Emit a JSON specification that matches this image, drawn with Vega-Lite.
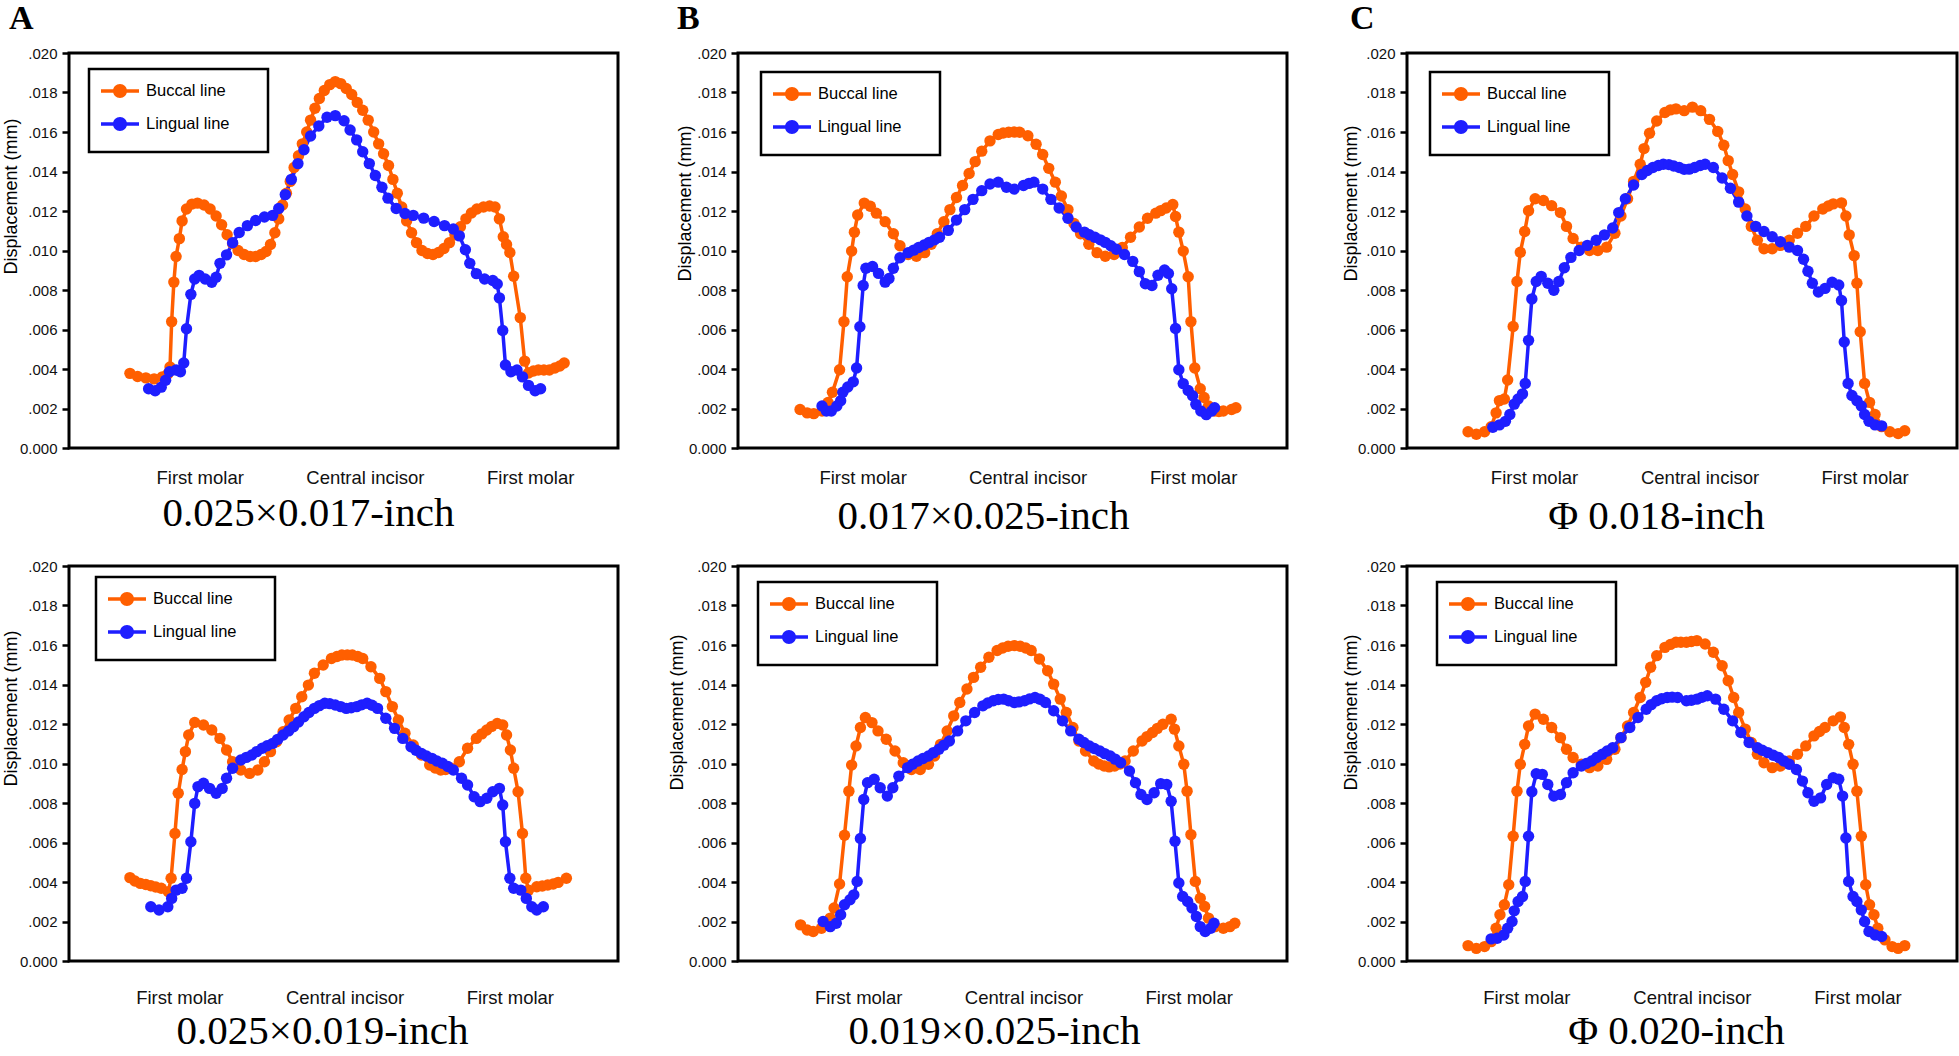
{
"$schema":"https://vega.github.io/schema/vega-lite/v6.json",
"background":"white",
"padding":{"left":0,"top":0,"right":0,"bottom":0},
"autosize":{"type":"pad"},
"columns":3,
"bounds":"flush",
"spacing":{"row":118,"column":120},
"resolve":{"scale":{"color":"independent"},"legend":{"color":"independent"}},
"data":{"name":"d"},
"config":{
"view":{"stroke":"black","strokeWidth":3},
"font":"Liberation Sans",
"axis":{"grid":false,"domain":false,"labelFont":"Liberation Sans","labelColor":"#111","titleColor":"black","titleFontWeight":"normal","labelFlush":false,"labelOverlap":false},
"axisX":{"ticks":false,"tickSize":0,"labelFontSize":18.5,"titleFont":"Liberation Serif","titleFontSize":41,"titleBaseline":"middle"},
"axisY":{"ticks":true,"tickSize":7,"tickWidth":2.5,"tickColor":"black","labelFontSize":15,"labelPadding":5,"titleFont":"Liberation Sans","titleFontSize":18,"titleBaseline":"middle","titleAngle":-90},
"legend":{"orient":"none","padding":12,"strokeColor":"black","strokeWidth":2.5,"fillColor":"white","labelFont":"Liberation Sans","labelFontSize":16.5,"labelColor":"black","labelOffset":16,"symbolOffset":9,"symbolType":"M-1.9,-0.17L1.9,-0.17L1.9,0.17L-1.9,0.17Z M0.7,0A0.7,0.7,0,1,1,-0.7,0A0.7,0.7,0,1,1,0.7,0Z","symbolSize":400,"symbolStrokeWidth":0,"rowPadding":14,"titleOrient":"right","titlePadding":27,"titleFontSize":12,"titleLineHeight":16,"titleBaseline":"top","titleAnchor":"start"},
"title":{"font":"Liberation Serif","fontSize":34,"fontWeight":"bold","anchor":"start","frame":"group","color":"black","offset":10}
},
"datasets":{"d":[
{"p":"A1","s":"B","x":11.1,"y":3.78},{"p":"A1","s":"B","x":12.5,"y":3.62},{"p":"A1","s":"B","x":14.0,"y":3.55},{"p":"A1","s":"B","x":15.5,"y":3.5},{"p":"A1","s":"B","x":17.0,"y":3.6},{"p":"A1","s":"B","x":18.0,"y":3.75},{"p":"A1","s":"B","x":18.4,"y":4.1},{"p":"A1","s":"B","x":18.7,"y":6.4},{"p":"A1","s":"B","x":19.1,"y":8.4},{"p":"A1","s":"B","x":19.5,"y":9.7},{"p":"A1","s":"B","x":20.1,"y":10.6},{"p":"A1","s":"B","x":20.6,"y":11.5},{"p":"A1","s":"B","x":21.4,"y":12.1},{"p":"A1","s":"B","x":22.4,"y":12.35},{"p":"A1","s":"B","x":23.4,"y":12.4},{"p":"A1","s":"B","x":24.6,"y":12.3},{"p":"A1","s":"B","x":25.7,"y":12.1},{"p":"A1","s":"B","x":26.8,"y":11.75},{"p":"A1","s":"B","x":27.8,"y":11.3},{"p":"A1","s":"B","x":28.8,"y":10.8},{"p":"A1","s":"B","x":29.8,"y":10.35},{"p":"A1","s":"B","x":30.8,"y":10.0},{"p":"A1","s":"B","x":31.9,"y":9.8},{"p":"A1","s":"B","x":33.0,"y":9.7},{"p":"A1","s":"B","x":34.0,"y":9.7},{"p":"A1","s":"B","x":35.0,"y":9.8},{"p":"A1","s":"B","x":35.9,"y":9.95},{"p":"A1","s":"B","x":36.7,"y":10.3},{"p":"A1","s":"B","x":37.5,"y":10.9},{"p":"A1","s":"B","x":38.2,"y":11.6},{"p":"A1","s":"B","x":38.9,"y":12.3},{"p":"A1","s":"B","x":39.6,"y":12.9},{"p":"A1","s":"B","x":40.3,"y":13.5},{"p":"A1","s":"B","x":41.0,"y":14.2},{"p":"A1","s":"B","x":41.8,"y":14.8},{"p":"A1","s":"B","x":42.5,"y":15.4},{"p":"A1","s":"B","x":43.3,"y":16.0},{"p":"A1","s":"B","x":44.0,"y":16.6},{"p":"A1","s":"B","x":44.8,"y":17.2},{"p":"A1","s":"B","x":45.6,"y":17.7},{"p":"A1","s":"B","x":46.5,"y":18.1},{"p":"A1","s":"B","x":47.5,"y":18.4},{"p":"A1","s":"B","x":48.5,"y":18.55},{"p":"A1","s":"B","x":49.5,"y":18.45},{"p":"A1","s":"B","x":50.5,"y":18.2},{"p":"A1","s":"B","x":51.5,"y":17.9},{"p":"A1","s":"B","x":52.5,"y":17.5},{"p":"A1","s":"B","x":53.5,"y":17.1},{"p":"A1","s":"B","x":54.5,"y":16.6},{"p":"A1","s":"B","x":55.5,"y":16.0},{"p":"A1","s":"B","x":56.4,"y":15.4},{"p":"A1","s":"B","x":57.3,"y":14.9},{"p":"A1","s":"B","x":58.2,"y":14.3},{"p":"A1","s":"B","x":59.0,"y":13.6},{"p":"A1","s":"B","x":59.8,"y":12.9},{"p":"A1","s":"B","x":60.6,"y":12.2},{"p":"A1","s":"B","x":61.5,"y":11.5},{"p":"A1","s":"B","x":62.4,"y":10.9},{"p":"A1","s":"B","x":63.3,"y":10.4},{"p":"A1","s":"B","x":64.3,"y":10.0},{"p":"A1","s":"B","x":65.3,"y":9.85},{"p":"A1","s":"B","x":66.3,"y":9.8},{"p":"A1","s":"B","x":67.3,"y":9.9},{"p":"A1","s":"B","x":68.3,"y":10.1},{"p":"A1","s":"B","x":69.3,"y":10.4},{"p":"A1","s":"B","x":70.3,"y":10.8},{"p":"A1","s":"B","x":71.3,"y":11.2},{"p":"A1","s":"B","x":72.3,"y":11.6},{"p":"A1","s":"B","x":73.3,"y":11.9},{"p":"A1","s":"B","x":74.3,"y":12.1},{"p":"A1","s":"B","x":75.5,"y":12.2},{"p":"A1","s":"B","x":76.6,"y":12.25},{"p":"A1","s":"B","x":77.6,"y":12.2},{"p":"A1","s":"B","x":78.4,"y":11.6},{"p":"A1","s":"B","x":79.1,"y":10.7},{"p":"A1","s":"B","x":79.7,"y":10.3},{"p":"A1","s":"B","x":80.3,"y":9.9},{"p":"A1","s":"B","x":81.0,"y":8.7},{"p":"A1","s":"B","x":82.2,"y":6.6},{"p":"A1","s":"B","x":83.0,"y":4.4},{"p":"A1","s":"B","x":83.7,"y":3.8},{"p":"A1","s":"B","x":84.6,"y":3.9},{"p":"A1","s":"B","x":85.5,"y":3.95},{"p":"A1","s":"B","x":86.5,"y":3.95},{"p":"A1","s":"B","x":87.5,"y":3.95},{"p":"A1","s":"B","x":88.5,"y":4.05},{"p":"A1","s":"B","x":89.4,"y":4.15},{"p":"A1","s":"B","x":90.2,"y":4.3},
{"p":"A1","s":"L","x":14.5,"y":3.0},{"p":"A1","s":"L","x":15.7,"y":2.9},{"p":"A1","s":"L","x":16.8,"y":3.08},{"p":"A1","s":"L","x":17.6,"y":3.43},{"p":"A1","s":"L","x":18.3,"y":3.86},{"p":"A1","s":"L","x":19.5,"y":3.95},{"p":"A1","s":"L","x":20.3,"y":3.86},{"p":"A1","s":"L","x":20.9,"y":4.3},{"p":"A1","s":"L","x":21.4,"y":6.04},{"p":"A1","s":"L","x":22.2,"y":7.78},{"p":"A1","s":"L","x":22.9,"y":8.56},{"p":"A1","s":"L","x":23.7,"y":8.74},{"p":"A1","s":"L","x":24.8,"y":8.56},{"p":"A1","s":"L","x":26.0,"y":8.39},{"p":"A1","s":"L","x":26.8,"y":8.65},{"p":"A1","s":"L","x":27.5,"y":9.35},{"p":"A1","s":"L","x":28.7,"y":9.78},{"p":"A1","s":"L","x":29.8,"y":10.39},{"p":"A1","s":"L","x":31.0,"y":10.91},{"p":"A1","s":"L","x":32.5,"y":11.26},{"p":"A1","s":"L","x":34.0,"y":11.52},{"p":"A1","s":"L","x":35.6,"y":11.7},{"p":"A1","s":"L","x":37.1,"y":11.78},{"p":"A1","s":"L","x":38.2,"y":12.13},{"p":"A1","s":"L","x":39.4,"y":12.83},{"p":"A1","s":"L","x":40.5,"y":13.6},{"p":"A1","s":"L","x":41.7,"y":14.4},{"p":"A1","s":"L","x":42.8,"y":15.1},{"p":"A1","s":"L","x":44.0,"y":15.8},{"p":"A1","s":"L","x":45.5,"y":16.3},{"p":"A1","s":"L","x":47.0,"y":16.75},{"p":"A1","s":"L","x":48.5,"y":16.83},{"p":"A1","s":"L","x":50.1,"y":16.57},{"p":"A1","s":"L","x":51.2,"y":16.1},{"p":"A1","s":"L","x":52.4,"y":15.6},{"p":"A1","s":"L","x":53.5,"y":15.0},{"p":"A1","s":"L","x":54.7,"y":14.4},{"p":"A1","s":"L","x":55.8,"y":13.8},{"p":"A1","s":"L","x":57.0,"y":13.2},{"p":"A1","s":"L","x":58.1,"y":12.65},{"p":"A1","s":"L","x":59.6,"y":12.13},{"p":"A1","s":"L","x":61.2,"y":11.87},{"p":"A1","s":"L","x":62.7,"y":11.78},{"p":"A1","s":"L","x":64.6,"y":11.64},{"p":"A1","s":"L","x":66.5,"y":11.47},{"p":"A1","s":"L","x":68.4,"y":11.26},{"p":"A1","s":"L","x":70.0,"y":11.09},{"p":"A1","s":"L","x":71.1,"y":10.74},{"p":"A1","s":"L","x":72.2,"y":10.04},{"p":"A1","s":"L","x":73.0,"y":9.35},{"p":"A1","s":"L","x":74.2,"y":8.83},{"p":"A1","s":"L","x":75.7,"y":8.56},{"p":"A1","s":"L","x":77.2,"y":8.48},{"p":"A1","s":"L","x":78.0,"y":8.3},{"p":"A1","s":"L","x":78.4,"y":7.6},{"p":"A1","s":"L","x":79.0,"y":5.95},{"p":"A1","s":"L","x":79.5,"y":4.2},{"p":"A1","s":"L","x":80.5,"y":3.86},{"p":"A1","s":"L","x":81.6,"y":3.95},{"p":"A1","s":"L","x":82.6,"y":3.6},{"p":"A1","s":"L","x":83.7,"y":3.17},{"p":"A1","s":"L","x":84.9,"y":2.9},{"p":"A1","s":"L","x":85.9,"y":3.0},
{"p":"B1","s":"B","x":11.3,"y":1.95},{"p":"B1","s":"B","x":12.6,"y":1.78},{"p":"B1","s":"B","x":13.8,"y":1.74},{"p":"B1","s":"B","x":15.3,"y":1.87},{"p":"B1","s":"B","x":16.4,"y":2.3},{"p":"B1","s":"B","x":17.2,"y":2.82},{"p":"B1","s":"B","x":18.5,"y":3.96},{"p":"B1","s":"B","x":19.3,"y":6.4},{"p":"B1","s":"B","x":19.9,"y":8.67},{"p":"B1","s":"B","x":20.7,"y":9.97},{"p":"B1","s":"B","x":21.2,"y":10.93},{"p":"B1","s":"B","x":21.8,"y":11.8},{"p":"B1","s":"B","x":23.0,"y":12.4},{"p":"B1","s":"B","x":24.1,"y":12.24},{"p":"B1","s":"B","x":25.2,"y":11.89},{"p":"B1","s":"B","x":26.8,"y":11.46},{"p":"B1","s":"B","x":28.3,"y":10.85},{"p":"B1","s":"B","x":29.5,"y":10.24},{"p":"B1","s":"B","x":31.0,"y":9.8},{"p":"B1","s":"B","x":32.5,"y":9.71},{"p":"B1","s":"B","x":34.0,"y":9.89},{"p":"B1","s":"B","x":35.2,"y":10.32},{"p":"B1","s":"B","x":36.3,"y":10.85},{"p":"B1","s":"B","x":37.5,"y":11.46},{"p":"B1","s":"B","x":38.6,"y":12.07},{"p":"B1","s":"B","x":39.8,"y":12.68},{"p":"B1","s":"B","x":40.9,"y":13.29},{"p":"B1","s":"B","x":42.1,"y":13.9},{"p":"B1","s":"B","x":43.2,"y":14.5},{"p":"B1","s":"B","x":44.4,"y":15.03},{"p":"B1","s":"B","x":45.9,"y":15.55},{"p":"B1","s":"B","x":47.4,"y":15.87},{"p":"B1","s":"B","x":48.3,"y":15.95},{"p":"B1","s":"B","x":49.3,"y":15.99},{"p":"B1","s":"B","x":50.3,"y":16.0},{"p":"B1","s":"B","x":51.3,"y":15.99},{"p":"B1","s":"B","x":52.8,"y":15.81},{"p":"B1","s":"B","x":54.3,"y":15.38},{"p":"B1","s":"B","x":55.5,"y":14.86},{"p":"B1","s":"B","x":56.6,"y":14.16},{"p":"B1","s":"B","x":57.8,"y":13.46},{"p":"B1","s":"B","x":58.9,"y":12.76},{"p":"B1","s":"B","x":60.1,"y":12.07},{"p":"B1","s":"B","x":61.2,"y":11.37},{"p":"B1","s":"B","x":62.4,"y":10.85},{"p":"B1","s":"B","x":63.9,"y":10.32},{"p":"B1","s":"B","x":65.4,"y":9.89},{"p":"B1","s":"B","x":66.9,"y":9.71},{"p":"B1","s":"B","x":68.5,"y":9.8},{"p":"B1","s":"B","x":70.0,"y":10.15},{"p":"B1","s":"B","x":71.5,"y":10.67},{"p":"B1","s":"B","x":73.1,"y":11.19},{"p":"B1","s":"B","x":74.6,"y":11.63},{"p":"B1","s":"B","x":76.1,"y":11.89},{"p":"B1","s":"B","x":77.0,"y":12.02},{"p":"B1","s":"B","x":78.0,"y":12.15},{"p":"B1","s":"B","x":79.2,"y":12.33},{"p":"B1","s":"B","x":79.7,"y":11.72},{"p":"B1","s":"B","x":80.3,"y":10.93},{"p":"B1","s":"B","x":81.1,"y":9.97},{"p":"B1","s":"B","x":82.0,"y":8.67},{"p":"B1","s":"B","x":82.5,"y":6.4},{"p":"B1","s":"B","x":83.2,"y":4.05},{"p":"B1","s":"B","x":84.2,"y":3.0},{"p":"B1","s":"B","x":84.9,"y":2.56},{"p":"B1","s":"B","x":85.7,"y":2.13},{"p":"B1","s":"B","x":86.8,"y":1.87},{"p":"B1","s":"B","x":87.6,"y":1.85},{"p":"B1","s":"B","x":88.4,"y":1.87},{"p":"B1","s":"B","x":89.9,"y":1.95},{"p":"B1","s":"B","x":90.7,"y":2.04},
{"p":"B1","s":"L","x":15.3,"y":2.13},{"p":"B1","s":"L","x":16.1,"y":1.87},{"p":"B1","s":"L","x":17.0,"y":1.87},{"p":"B1","s":"L","x":18.0,"y":2.13},{"p":"B1","s":"L","x":18.7,"y":2.39},{"p":"B1","s":"L","x":19.1,"y":2.82},{"p":"B1","s":"L","x":20.0,"y":3.09},{"p":"B1","s":"L","x":21.0,"y":3.35},{"p":"B1","s":"L","x":21.6,"y":4.05},{"p":"B1","s":"L","x":22.2,"y":6.14},{"p":"B1","s":"L","x":22.8,"y":8.23},{"p":"B1","s":"L","x":23.3,"y":9.1},{"p":"B1","s":"L","x":24.5,"y":9.19},{"p":"B1","s":"L","x":25.6,"y":8.84},{"p":"B1","s":"L","x":26.8,"y":8.4},{"p":"B1","s":"L","x":27.5,"y":8.58},{"p":"B1","s":"L","x":28.3,"y":9.1},{"p":"B1","s":"L","x":29.5,"y":9.63},{"p":"B1","s":"L","x":31.0,"y":9.89},{"p":"B1","s":"L","x":32.0,"y":10.02},{"p":"B1","s":"L","x":32.9,"y":10.15},{"p":"B1","s":"L","x":33.9,"y":10.28},{"p":"B1","s":"L","x":34.8,"y":10.41},{"p":"B1","s":"L","x":35.8,"y":10.54},{"p":"B1","s":"L","x":36.7,"y":10.67},{"p":"B1","s":"L","x":38.3,"y":11.02},{"p":"B1","s":"L","x":39.8,"y":11.54},{"p":"B1","s":"L","x":41.3,"y":12.07},{"p":"B1","s":"L","x":42.8,"y":12.59},{"p":"B1","s":"L","x":44.4,"y":13.03},{"p":"B1","s":"L","x":45.9,"y":13.37},{"p":"B1","s":"L","x":47.4,"y":13.46},{"p":"B1","s":"L","x":48.9,"y":13.2},{"p":"B1","s":"L","x":50.3,"y":13.11},{"p":"B1","s":"L","x":52.0,"y":13.29},{"p":"B1","s":"L","x":53.0,"y":13.4},{"p":"B1","s":"L","x":53.9,"y":13.46},{"p":"B1","s":"L","x":55.5,"y":13.11},{"p":"B1","s":"L","x":57.0,"y":12.59},{"p":"B1","s":"L","x":58.5,"y":12.15},{"p":"B1","s":"L","x":60.1,"y":11.63},{"p":"B1","s":"L","x":61.6,"y":11.19},{"p":"B1","s":"L","x":63.1,"y":10.93},{"p":"B1","s":"L","x":64.0,"y":10.8},{"p":"B1","s":"L","x":65.0,"y":10.67},{"p":"B1","s":"L","x":66.0,"y":10.54},{"p":"B1","s":"L","x":66.9,"y":10.41},{"p":"B1","s":"L","x":67.9,"y":10.24},{"p":"B1","s":"L","x":68.9,"y":10.06},{"p":"B1","s":"L","x":70.4,"y":9.8},{"p":"B1","s":"L","x":71.9,"y":9.45},{"p":"B1","s":"L","x":73.1,"y":8.93},{"p":"B1","s":"L","x":74.2,"y":8.32},{"p":"B1","s":"L","x":75.4,"y":8.23},{"p":"B1","s":"L","x":76.5,"y":8.75},{"p":"B1","s":"L","x":77.7,"y":9.01},{"p":"B1","s":"L","x":78.4,"y":8.84},{"p":"B1","s":"L","x":79.0,"y":8.06},{"p":"B1","s":"L","x":79.7,"y":6.05},{"p":"B1","s":"L","x":80.3,"y":3.96},{"p":"B1","s":"L","x":81.1,"y":3.26},{"p":"B1","s":"L","x":82.0,"y":2.91},{"p":"B1","s":"L","x":82.8,"y":2.65},{"p":"B1","s":"L","x":83.4,"y":2.21},{"p":"B1","s":"L","x":84.3,"y":1.87},{"p":"B1","s":"L","x":85.3,"y":1.69},{"p":"B1","s":"L","x":86.3,"y":1.87},{"p":"B1","s":"L","x":86.8,"y":2.04},
{"p":"C1","s":"B","x":11.1,"y":0.82},{"p":"C1","s":"B","x":12.6,"y":0.7},{"p":"C1","s":"B","x":14.1,"y":0.82},{"p":"C1","s":"B","x":15.3,"y":1.08},{"p":"C1","s":"B","x":16.2,"y":1.78},{"p":"C1","s":"B","x":16.8,"y":2.4},{"p":"C1","s":"B","x":17.7,"y":2.48},{"p":"C1","s":"B","x":18.3,"y":3.44},{"p":"C1","s":"B","x":19.3,"y":6.15},{"p":"C1","s":"B","x":20.0,"y":8.43},{"p":"C1","s":"B","x":20.6,"y":9.91},{"p":"C1","s":"B","x":21.4,"y":10.96},{"p":"C1","s":"B","x":22.1,"y":12.01},{"p":"C1","s":"B","x":23.3,"y":12.62},{"p":"C1","s":"B","x":24.8,"y":12.53},{"p":"C1","s":"B","x":26.3,"y":12.27},{"p":"C1","s":"B","x":27.9,"y":11.92},{"p":"C1","s":"B","x":29.0,"y":11.22},{"p":"C1","s":"B","x":30.2,"y":10.61},{"p":"C1","s":"B","x":31.7,"y":10.17},{"p":"C1","s":"B","x":33.2,"y":10.0},{"p":"C1","s":"B","x":34.7,"y":10.0},{"p":"C1","s":"B","x":36.3,"y":10.17},{"p":"C1","s":"B","x":37.8,"y":10.87},{"p":"C1","s":"B","x":38.9,"y":11.75},{"p":"C1","s":"B","x":40.1,"y":12.62},{"p":"C1","s":"B","x":41.2,"y":13.5},{"p":"C1","s":"B","x":42.4,"y":14.37},{"p":"C1","s":"B","x":43.1,"y":15.16},{"p":"C1","s":"B","x":44.1,"y":15.94},{"p":"C1","s":"B","x":45.4,"y":16.56},{"p":"C1","s":"B","x":46.9,"y":16.99},{"p":"C1","s":"B","x":47.9,"y":17.12},{"p":"C1","s":"B","x":48.9,"y":17.17},{"p":"C1","s":"B","x":50.4,"y":17.08},{"p":"C1","s":"B","x":51.9,"y":17.26},{"p":"C1","s":"B","x":53.4,"y":17.08},{"p":"C1","s":"B","x":55.0,"y":16.64},{"p":"C1","s":"B","x":56.5,"y":16.03},{"p":"C1","s":"B","x":57.6,"y":15.33},{"p":"C1","s":"B","x":58.4,"y":14.55},{"p":"C1","s":"B","x":59.2,"y":13.85},{"p":"C1","s":"B","x":60.3,"y":12.97},{"p":"C1","s":"B","x":61.5,"y":12.1},{"p":"C1","s":"B","x":62.6,"y":11.22},{"p":"C1","s":"B","x":63.7,"y":10.52},{"p":"C1","s":"B","x":64.9,"y":10.09},{"p":"C1","s":"B","x":66.4,"y":10.09},{"p":"C1","s":"B","x":67.9,"y":10.26},{"p":"C1","s":"B","x":69.5,"y":10.52},{"p":"C1","s":"B","x":71.0,"y":10.87},{"p":"C1","s":"B","x":72.5,"y":11.22},{"p":"C1","s":"B","x":74.0,"y":11.75},{"p":"C1","s":"B","x":75.6,"y":12.1},{"p":"C1","s":"B","x":76.6,"y":12.25},{"p":"C1","s":"B","x":77.5,"y":12.36},{"p":"C1","s":"B","x":79.0,"y":12.41},{"p":"C1","s":"B","x":79.8,"y":11.75},{"p":"C1","s":"B","x":80.4,"y":10.79},{"p":"C1","s":"B","x":81.3,"y":9.74},{"p":"C1","s":"B","x":81.8,"y":8.34},{"p":"C1","s":"B","x":82.4,"y":5.89},{"p":"C1","s":"B","x":83.2,"y":3.27},{"p":"C1","s":"B","x":84.1,"y":2.31},{"p":"C1","s":"B","x":85.1,"y":1.7},{"p":"C1","s":"B","x":86.3,"y":1.08},{"p":"C1","s":"B","x":87.8,"y":0.82},{"p":"C1","s":"B","x":89.3,"y":0.73},{"p":"C1","s":"B","x":90.5,"y":0.87},
{"p":"C1","s":"L","x":15.6,"y":1.05},{"p":"C1","s":"L","x":16.8,"y":1.17},{"p":"C1","s":"L","x":17.9,"y":1.35},{"p":"C1","s":"L","x":18.7,"y":1.7},{"p":"C1","s":"L","x":19.5,"y":2.22},{"p":"C1","s":"L","x":20.2,"y":2.48},{"p":"C1","s":"L","x":21.0,"y":2.74},{"p":"C1","s":"L","x":21.5,"y":3.27},{"p":"C1","s":"L","x":22.1,"y":5.45},{"p":"C1","s":"L","x":22.7,"y":7.55},{"p":"C1","s":"L","x":23.5,"y":8.43},{"p":"C1","s":"L","x":24.4,"y":8.69},{"p":"C1","s":"L","x":25.6,"y":8.34},{"p":"C1","s":"L","x":26.7,"y":7.99},{"p":"C1","s":"L","x":27.6,"y":8.43},{"p":"C1","s":"L","x":28.6,"y":9.13},{"p":"C1","s":"L","x":29.8,"y":9.65},{"p":"C1","s":"L","x":31.3,"y":10.0},{"p":"C1","s":"L","x":32.8,"y":10.26},{"p":"C1","s":"L","x":34.4,"y":10.52},{"p":"C1","s":"L","x":35.9,"y":10.79},{"p":"C1","s":"L","x":37.4,"y":11.14},{"p":"C1","s":"L","x":38.5,"y":11.92},{"p":"C1","s":"L","x":39.7,"y":12.62},{"p":"C1","s":"L","x":41.2,"y":13.32},{"p":"C1","s":"L","x":42.7,"y":13.85},{"p":"C1","s":"L","x":43.7,"y":14.05},{"p":"C1","s":"L","x":44.7,"y":14.2},{"p":"C1","s":"L","x":45.7,"y":14.3},{"p":"C1","s":"L","x":46.6,"y":14.37},{"p":"C1","s":"L","x":47.6,"y":14.35},{"p":"C1","s":"L","x":48.5,"y":14.28},{"p":"C1","s":"L","x":49.5,"y":14.2},{"p":"C1","s":"L","x":50.4,"y":14.11},{"p":"C1","s":"L","x":51.3,"y":14.12},{"p":"C1","s":"L","x":52.3,"y":14.2},{"p":"C1","s":"L","x":53.3,"y":14.3},{"p":"C1","s":"L","x":54.2,"y":14.37},{"p":"C1","s":"L","x":55.7,"y":14.2},{"p":"C1","s":"L","x":57.3,"y":13.67},{"p":"C1","s":"L","x":58.8,"y":13.15},{"p":"C1","s":"L","x":60.3,"y":12.45},{"p":"C1","s":"L","x":61.8,"y":11.75},{"p":"C1","s":"L","x":63.4,"y":11.22},{"p":"C1","s":"L","x":64.9,"y":10.96},{"p":"C1","s":"L","x":66.4,"y":10.7},{"p":"C1","s":"L","x":67.9,"y":10.44},{"p":"C1","s":"L","x":69.5,"y":10.17},{"p":"C1","s":"L","x":71.0,"y":10.0},{"p":"C1","s":"L","x":72.1,"y":9.56},{"p":"C1","s":"L","x":72.9,"y":8.95},{"p":"C1","s":"L","x":73.7,"y":8.34},{"p":"C1","s":"L","x":74.8,"y":7.9},{"p":"C1","s":"L","x":76.0,"y":8.08},{"p":"C1","s":"L","x":77.3,"y":8.39},{"p":"C1","s":"L","x":78.5,"y":8.25},{"p":"C1","s":"L","x":79.0,"y":7.47},{"p":"C1","s":"L","x":79.5,"y":5.37},{"p":"C1","s":"L","x":80.2,"y":3.27},{"p":"C1","s":"L","x":80.9,"y":2.66},{"p":"C1","s":"L","x":81.8,"y":2.4},{"p":"C1","s":"L","x":82.6,"y":2.13},{"p":"C1","s":"L","x":83.2,"y":1.7},{"p":"C1","s":"L","x":84.0,"y":1.35},{"p":"C1","s":"L","x":85.1,"y":1.17},{"p":"C1","s":"L","x":86.3,"y":1.12},
{"p":"A2","s":"B","x":11.1,"y":4.22},{"p":"A2","s":"B","x":12.0,"y":4.05},{"p":"A2","s":"B","x":13.0,"y":3.93},{"p":"A2","s":"B","x":14.0,"y":3.87},{"p":"A2","s":"B","x":14.9,"y":3.81},{"p":"A2","s":"B","x":15.8,"y":3.75},{"p":"A2","s":"B","x":16.8,"y":3.68},{"p":"A2","s":"B","x":18.1,"y":3.51},{"p":"A2","s":"B","x":18.6,"y":4.19},{"p":"A2","s":"B","x":19.3,"y":6.46},{"p":"A2","s":"B","x":19.9,"y":8.49},{"p":"A2","s":"B","x":20.6,"y":9.7},{"p":"A2","s":"B","x":21.2,"y":10.6},{"p":"A2","s":"B","x":21.8,"y":11.44},{"p":"A2","s":"B","x":22.9,"y":12.08},{"p":"A2","s":"B","x":24.5,"y":11.95},{"p":"A2","s":"B","x":26.0,"y":11.7},{"p":"A2","s":"B","x":27.5,"y":11.27},{"p":"A2","s":"B","x":28.7,"y":10.68},{"p":"A2","s":"B","x":29.8,"y":10.09},{"p":"A2","s":"B","x":31.3,"y":9.67},{"p":"A2","s":"B","x":32.9,"y":9.5},{"p":"A2","s":"B","x":34.4,"y":9.67},{"p":"A2","s":"B","x":35.6,"y":10.09},{"p":"A2","s":"B","x":36.7,"y":10.6},{"p":"A2","s":"B","x":37.8,"y":11.1},{"p":"A2","s":"B","x":39.0,"y":11.61},{"p":"A2","s":"B","x":40.1,"y":12.2},{"p":"A2","s":"B","x":41.3,"y":12.79},{"p":"A2","s":"B","x":42.4,"y":13.38},{"p":"A2","s":"B","x":43.6,"y":13.97},{"p":"A2","s":"B","x":44.7,"y":14.57},{"p":"A2","s":"B","x":46.3,"y":14.99},{"p":"A2","s":"B","x":47.8,"y":15.32},{"p":"A2","s":"B","x":48.8,"y":15.42},{"p":"A2","s":"B","x":49.7,"y":15.49},{"p":"A2","s":"B","x":50.7,"y":15.5},{"p":"A2","s":"B","x":51.6,"y":15.49},{"p":"A2","s":"B","x":52.6,"y":15.42},{"p":"A2","s":"B","x":53.5,"y":15.32},{"p":"A2","s":"B","x":55.0,"y":14.9},{"p":"A2","s":"B","x":56.6,"y":14.31},{"p":"A2","s":"B","x":57.7,"y":13.64},{"p":"A2","s":"B","x":58.9,"y":12.88},{"p":"A2","s":"B","x":60.0,"y":12.2},{"p":"A2","s":"B","x":61.2,"y":11.53},{"p":"A2","s":"B","x":62.7,"y":10.94},{"p":"A2","s":"B","x":64.2,"y":10.43},{"p":"A2","s":"B","x":65.7,"y":9.92},{"p":"A2","s":"B","x":66.7,"y":9.77},{"p":"A2","s":"B","x":67.7,"y":9.67},{"p":"A2","s":"B","x":68.6,"y":9.7},{"p":"A2","s":"B","x":69.6,"y":9.76},{"p":"A2","s":"B","x":71.1,"y":10.09},{"p":"A2","s":"B","x":72.6,"y":10.77},{"p":"A2","s":"B","x":74.2,"y":11.27},{"p":"A2","s":"B","x":75.2,"y":11.5},{"p":"A2","s":"B","x":76.1,"y":11.7},{"p":"A2","s":"B","x":77.0,"y":11.88},{"p":"A2","s":"B","x":78.0,"y":12.03},{"p":"A2","s":"B","x":79.0,"y":11.95},{"p":"A2","s":"B","x":79.7,"y":11.44},{"p":"A2","s":"B","x":80.4,"y":10.68},{"p":"A2","s":"B","x":81.0,"y":9.76},{"p":"A2","s":"B","x":81.8,"y":8.57},{"p":"A2","s":"B","x":82.6,"y":6.46},{"p":"A2","s":"B","x":83.2,"y":4.19},{"p":"A2","s":"B","x":83.7,"y":3.59},{"p":"A2","s":"B","x":85.2,"y":3.76},{"p":"A2","s":"B","x":86.2,"y":3.8},{"p":"A2","s":"B","x":87.2,"y":3.85},{"p":"A2","s":"B","x":88.2,"y":3.9},{"p":"A2","s":"B","x":89.1,"y":3.98},{"p":"A2","s":"B","x":90.6,"y":4.19},
{"p":"A2","s":"L","x":14.9,"y":2.75},{"p":"A2","s":"L","x":16.4,"y":2.58},{"p":"A2","s":"L","x":18.0,"y":2.75},{"p":"A2","s":"L","x":18.7,"y":3.17},{"p":"A2","s":"L","x":19.5,"y":3.59},{"p":"A2","s":"L","x":20.6,"y":3.68},{"p":"A2","s":"L","x":21.4,"y":4.19},{"p":"A2","s":"L","x":22.2,"y":6.04},{"p":"A2","s":"L","x":22.9,"y":7.98},{"p":"A2","s":"L","x":23.5,"y":8.83},{"p":"A2","s":"L","x":24.5,"y":9.0},{"p":"A2","s":"L","x":25.6,"y":8.74},{"p":"A2","s":"L","x":26.8,"y":8.49},{"p":"A2","s":"L","x":27.9,"y":8.74},{"p":"A2","s":"L","x":28.7,"y":9.25},{"p":"A2","s":"L","x":29.8,"y":9.76},{"p":"A2","s":"L","x":31.3,"y":10.18},{"p":"A2","s":"L","x":32.3,"y":10.31},{"p":"A2","s":"L","x":33.3,"y":10.43},{"p":"A2","s":"L","x":34.2,"y":10.6},{"p":"A2","s":"L","x":35.2,"y":10.77},{"p":"A2","s":"L","x":36.1,"y":10.9},{"p":"A2","s":"L","x":37.1,"y":11.02},{"p":"A2","s":"L","x":38.0,"y":11.22},{"p":"A2","s":"L","x":39.0,"y":11.44},{"p":"A2","s":"L","x":40.0,"y":11.65},{"p":"A2","s":"L","x":40.9,"y":11.86},{"p":"A2","s":"L","x":41.8,"y":12.1},{"p":"A2","s":"L","x":42.8,"y":12.37},{"p":"A2","s":"L","x":43.7,"y":12.58},{"p":"A2","s":"L","x":44.7,"y":12.79},{"p":"A2","s":"L","x":45.6,"y":12.93},{"p":"A2","s":"L","x":46.6,"y":13.05},{"p":"A2","s":"L","x":47.5,"y":13.03},{"p":"A2","s":"L","x":48.5,"y":12.96},{"p":"A2","s":"L","x":49.5,"y":12.88},{"p":"A2","s":"L","x":50.5,"y":12.79},{"p":"A2","s":"L","x":51.4,"y":12.82},{"p":"A2","s":"L","x":52.4,"y":12.88},{"p":"A2","s":"L","x":53.3,"y":12.97},{"p":"A2","s":"L","x":54.3,"y":13.05},{"p":"A2","s":"L","x":55.2,"y":12.95},{"p":"A2","s":"L","x":56.2,"y":12.79},{"p":"A2","s":"L","x":57.7,"y":12.29},{"p":"A2","s":"L","x":59.3,"y":11.78},{"p":"A2","s":"L","x":60.8,"y":11.27},{"p":"A2","s":"L","x":62.3,"y":10.85},{"p":"A2","s":"L","x":63.2,"y":10.67},{"p":"A2","s":"L","x":64.2,"y":10.51},{"p":"A2","s":"L","x":65.1,"y":10.38},{"p":"A2","s":"L","x":66.1,"y":10.26},{"p":"A2","s":"L","x":67.0,"y":10.13},{"p":"A2","s":"L","x":68.0,"y":10.01},{"p":"A2","s":"L","x":69.0,"y":9.85},{"p":"A2","s":"L","x":70.0,"y":9.67},{"p":"A2","s":"L","x":71.5,"y":9.25},{"p":"A2","s":"L","x":72.6,"y":8.91},{"p":"A2","s":"L","x":73.8,"y":8.32},{"p":"A2","s":"L","x":74.9,"y":8.07},{"p":"A2","s":"L","x":76.1,"y":8.24},{"p":"A2","s":"L","x":77.2,"y":8.57},{"p":"A2","s":"L","x":78.4,"y":8.74},{"p":"A2","s":"L","x":79.0,"y":7.9},{"p":"A2","s":"L","x":79.5,"y":6.04},{"p":"A2","s":"L","x":80.3,"y":4.19},{"p":"A2","s":"L","x":81.0,"y":3.68},{"p":"A2","s":"L","x":82.3,"y":3.59},{"p":"A2","s":"L","x":83.3,"y":3.17},{"p":"A2","s":"L","x":84.3,"y":2.75},{"p":"A2","s":"L","x":85.2,"y":2.58},{"p":"A2","s":"L","x":86.4,"y":2.75},
{"p":"B2","s":"B","x":11.4,"y":1.83},{"p":"B2","s":"B","x":12.6,"y":1.57},{"p":"B2","s":"B","x":13.7,"y":1.49},{"p":"B2","s":"B","x":15.2,"y":1.66},{"p":"B2","s":"B","x":16.8,"y":2.17},{"p":"B2","s":"B","x":17.5,"y":2.68},{"p":"B2","s":"B","x":18.5,"y":3.9},{"p":"B2","s":"B","x":19.4,"y":6.37},{"p":"B2","s":"B","x":20.2,"y":8.6},{"p":"B2","s":"B","x":20.7,"y":9.92},{"p":"B2","s":"B","x":21.5,"y":10.89},{"p":"B2","s":"B","x":22.3,"y":11.82},{"p":"B2","s":"B","x":23.2,"y":12.33},{"p":"B2","s":"B","x":24.4,"y":12.07},{"p":"B2","s":"B","x":25.5,"y":11.65},{"p":"B2","s":"B","x":27.0,"y":11.23},{"p":"B2","s":"B","x":28.6,"y":10.63},{"p":"B2","s":"B","x":30.1,"y":10.04},{"p":"B2","s":"B","x":31.6,"y":9.7},{"p":"B2","s":"B","x":33.2,"y":9.7},{"p":"B2","s":"B","x":34.7,"y":9.96},{"p":"B2","s":"B","x":35.8,"y":10.38},{"p":"B2","s":"B","x":36.9,"y":10.97},{"p":"B2","s":"B","x":38.1,"y":11.65},{"p":"B2","s":"B","x":39.3,"y":12.41},{"p":"B2","s":"B","x":40.4,"y":13.09},{"p":"B2","s":"B","x":41.7,"y":13.77},{"p":"B2","s":"B","x":42.9,"y":14.36},{"p":"B2","s":"B","x":44.2,"y":14.87},{"p":"B2","s":"B","x":45.7,"y":15.38},{"p":"B2","s":"B","x":47.2,"y":15.72},{"p":"B2","s":"B","x":48.2,"y":15.85},{"p":"B2","s":"B","x":49.2,"y":15.94},{"p":"B2","s":"B","x":50.3,"y":15.97},{"p":"B2","s":"B","x":51.4,"y":15.94},{"p":"B2","s":"B","x":52.4,"y":15.85},{"p":"B2","s":"B","x":53.4,"y":15.72},{"p":"B2","s":"B","x":54.9,"y":15.29},{"p":"B2","s":"B","x":56.4,"y":14.7},{"p":"B2","s":"B","x":57.5,"y":14.02},{"p":"B2","s":"B","x":58.7,"y":13.26},{"p":"B2","s":"B","x":59.8,"y":12.58},{"p":"B2","s":"B","x":61.0,"y":11.82},{"p":"B2","s":"B","x":62.1,"y":11.14},{"p":"B2","s":"B","x":63.3,"y":10.63},{"p":"B2","s":"B","x":64.8,"y":10.13},{"p":"B2","s":"B","x":65.7,"y":9.97},{"p":"B2","s":"B","x":66.7,"y":9.87},{"p":"B2","s":"B","x":67.6,"y":9.83},{"p":"B2","s":"B","x":68.6,"y":9.87},{"p":"B2","s":"B","x":69.6,"y":9.97},{"p":"B2","s":"B","x":70.5,"y":10.13},{"p":"B2","s":"B","x":72.0,"y":10.63},{"p":"B2","s":"B","x":73.6,"y":11.14},{"p":"B2","s":"B","x":74.5,"y":11.36},{"p":"B2","s":"B","x":75.5,"y":11.57},{"p":"B2","s":"B","x":76.4,"y":11.78},{"p":"B2","s":"B","x":77.4,"y":11.99},{"p":"B2","s":"B","x":78.9,"y":12.24},{"p":"B2","s":"B","x":79.5,"y":11.74},{"p":"B2","s":"B","x":80.3,"y":10.89},{"p":"B2","s":"B","x":81.2,"y":9.96},{"p":"B2","s":"B","x":81.8,"y":8.6},{"p":"B2","s":"B","x":82.5,"y":6.4},{"p":"B2","s":"B","x":83.3,"y":4.03},{"p":"B2","s":"B","x":84.2,"y":3.18},{"p":"B2","s":"B","x":85.0,"y":2.76},{"p":"B2","s":"B","x":85.7,"y":2.17},{"p":"B2","s":"B","x":86.9,"y":1.74},{"p":"B2","s":"B","x":88.4,"y":1.66},{"p":"B2","s":"B","x":89.6,"y":1.74},{"p":"B2","s":"B","x":90.5,"y":1.91},
{"p":"B2","s":"L","x":15.5,"y":2.0},{"p":"B2","s":"L","x":16.8,"y":1.74},{"p":"B2","s":"L","x":17.9,"y":1.91},{"p":"B2","s":"L","x":18.7,"y":2.34},{"p":"B2","s":"L","x":19.4,"y":2.85},{"p":"B2","s":"L","x":20.4,"y":3.1},{"p":"B2","s":"L","x":21.1,"y":3.35},{"p":"B2","s":"L","x":21.7,"y":4.03},{"p":"B2","s":"L","x":22.3,"y":6.2},{"p":"B2","s":"L","x":22.9,"y":8.18},{"p":"B2","s":"L","x":23.6,"y":9.03},{"p":"B2","s":"L","x":24.8,"y":9.2},{"p":"B2","s":"L","x":25.9,"y":8.77},{"p":"B2","s":"L","x":27.2,"y":8.35},{"p":"B2","s":"L","x":28.2,"y":8.77},{"p":"B2","s":"L","x":29.3,"y":9.36},{"p":"B2","s":"L","x":30.9,"y":9.79},{"p":"B2","s":"L","x":31.8,"y":9.96},{"p":"B2","s":"L","x":32.8,"y":10.13},{"p":"B2","s":"L","x":33.7,"y":10.25},{"p":"B2","s":"L","x":34.7,"y":10.38},{"p":"B2","s":"L","x":35.6,"y":10.55},{"p":"B2","s":"L","x":36.6,"y":10.72},{"p":"B2","s":"L","x":37.5,"y":10.93},{"p":"B2","s":"L","x":38.5,"y":11.14},{"p":"B2","s":"L","x":40.0,"y":11.65},{"p":"B2","s":"L","x":41.5,"y":12.16},{"p":"B2","s":"L","x":43.1,"y":12.58},{"p":"B2","s":"L","x":44.6,"y":12.92},{"p":"B2","s":"L","x":45.5,"y":13.06},{"p":"B2","s":"L","x":46.5,"y":13.18},{"p":"B2","s":"L","x":47.4,"y":13.24},{"p":"B2","s":"L","x":48.4,"y":13.26},{"p":"B2","s":"L","x":49.3,"y":13.18},{"p":"B2","s":"L","x":50.3,"y":13.09},{"p":"B2","s":"L","x":51.2,"y":13.12},{"p":"B2","s":"L","x":52.2,"y":13.18},{"p":"B2","s":"L","x":53.1,"y":13.27},{"p":"B2","s":"L","x":54.1,"y":13.34},{"p":"B2","s":"L","x":55.0,"y":13.25},{"p":"B2","s":"L","x":56.0,"y":13.09},{"p":"B2","s":"L","x":57.5,"y":12.67},{"p":"B2","s":"L","x":59.1,"y":12.16},{"p":"B2","s":"L","x":60.6,"y":11.65},{"p":"B2","s":"L","x":62.1,"y":11.23},{"p":"B2","s":"L","x":63.0,"y":11.06},{"p":"B2","s":"L","x":64.0,"y":10.89},{"p":"B2","s":"L","x":64.9,"y":10.76},{"p":"B2","s":"L","x":65.9,"y":10.63},{"p":"B2","s":"L","x":66.8,"y":10.5},{"p":"B2","s":"L","x":67.8,"y":10.38},{"p":"B2","s":"L","x":68.7,"y":10.22},{"p":"B2","s":"L","x":69.7,"y":10.04},{"p":"B2","s":"L","x":71.3,"y":9.62},{"p":"B2","s":"L","x":72.4,"y":9.03},{"p":"B2","s":"L","x":73.4,"y":8.43},{"p":"B2","s":"L","x":74.5,"y":8.18},{"p":"B2","s":"L","x":75.8,"y":8.52},{"p":"B2","s":"L","x":77.0,"y":8.98},{"p":"B2","s":"L","x":78.1,"y":8.94},{"p":"B2","s":"L","x":78.9,"y":8.09},{"p":"B2","s":"L","x":79.6,"y":6.06},{"p":"B2","s":"L","x":80.3,"y":3.95},{"p":"B2","s":"L","x":81.0,"y":3.27},{"p":"B2","s":"L","x":81.9,"y":3.01},{"p":"B2","s":"L","x":82.7,"y":2.68},{"p":"B2","s":"L","x":83.5,"y":2.25},{"p":"B2","s":"L","x":84.2,"y":1.74},{"p":"B2","s":"L","x":85.1,"y":1.49},{"p":"B2","s":"L","x":86.1,"y":1.66},{"p":"B2","s":"L","x":86.7,"y":1.91},
{"p":"C2","s":"B","x":11.1,"y":0.78},{"p":"C2","s":"B","x":12.6,"y":0.64},{"p":"C2","s":"B","x":14.1,"y":0.73},{"p":"C2","s":"B","x":15.3,"y":0.98},{"p":"C2","s":"B","x":16.2,"y":1.66},{"p":"C2","s":"B","x":16.9,"y":2.34},{"p":"C2","s":"B","x":17.7,"y":2.85},{"p":"C2","s":"B","x":18.5,"y":3.86},{"p":"C2","s":"B","x":19.3,"y":6.32},{"p":"C2","s":"B","x":20.0,"y":8.6},{"p":"C2","s":"B","x":20.6,"y":9.96},{"p":"C2","s":"B","x":21.4,"y":10.97},{"p":"C2","s":"B","x":22.1,"y":11.9},{"p":"C2","s":"B","x":23.3,"y":12.5},{"p":"C2","s":"B","x":24.8,"y":12.24},{"p":"C2","s":"B","x":26.3,"y":11.82},{"p":"C2","s":"B","x":27.9,"y":11.31},{"p":"C2","s":"B","x":29.0,"y":10.72},{"p":"C2","s":"B","x":30.2,"y":10.3},{"p":"C2","s":"B","x":31.7,"y":9.96},{"p":"C2","s":"B","x":33.2,"y":9.79},{"p":"C2","s":"B","x":34.7,"y":9.87},{"p":"C2","s":"B","x":36.3,"y":10.21},{"p":"C2","s":"B","x":37.8,"y":10.72},{"p":"C2","s":"B","x":38.9,"y":11.31},{"p":"C2","s":"B","x":40.1,"y":11.9},{"p":"C2","s":"B","x":41.2,"y":12.58},{"p":"C2","s":"B","x":42.4,"y":13.34},{"p":"C2","s":"B","x":43.4,"y":14.11},{"p":"C2","s":"B","x":44.3,"y":14.87},{"p":"C2","s":"B","x":45.4,"y":15.46},{"p":"C2","s":"B","x":46.9,"y":15.88},{"p":"C2","s":"B","x":47.9,"y":16.03},{"p":"C2","s":"B","x":48.9,"y":16.14},{"p":"C2","s":"B","x":49.8,"y":16.14},{"p":"C2","s":"B","x":50.8,"y":16.14},{"p":"C2","s":"B","x":51.7,"y":16.18},{"p":"C2","s":"B","x":52.7,"y":16.22},{"p":"C2","s":"B","x":54.2,"y":16.05},{"p":"C2","s":"B","x":55.7,"y":15.63},{"p":"C2","s":"B","x":57.3,"y":14.95},{"p":"C2","s":"B","x":58.4,"y":14.19},{"p":"C2","s":"B","x":59.4,"y":13.34},{"p":"C2","s":"B","x":60.3,"y":12.58},{"p":"C2","s":"B","x":61.5,"y":11.74},{"p":"C2","s":"B","x":62.6,"y":11.06},{"p":"C2","s":"B","x":63.7,"y":10.47},{"p":"C2","s":"B","x":64.9,"y":10.04},{"p":"C2","s":"B","x":66.4,"y":9.79},{"p":"C2","s":"B","x":67.9,"y":9.87},{"p":"C2","s":"B","x":69.5,"y":10.13},{"p":"C2","s":"B","x":71.0,"y":10.47},{"p":"C2","s":"B","x":72.5,"y":10.89},{"p":"C2","s":"B","x":74.0,"y":11.4},{"p":"C2","s":"B","x":75.0,"y":11.62},{"p":"C2","s":"B","x":76.0,"y":11.82},{"p":"C2","s":"B","x":77.5,"y":12.16},{"p":"C2","s":"B","x":78.8,"y":12.36},{"p":"C2","s":"B","x":79.5,"y":11.82},{"p":"C2","s":"B","x":80.3,"y":10.97},{"p":"C2","s":"B","x":81.1,"y":9.96},{"p":"C2","s":"B","x":81.8,"y":8.6},{"p":"C2","s":"B","x":82.6,"y":6.32},{"p":"C2","s":"B","x":83.4,"y":3.86},{"p":"C2","s":"B","x":84.1,"y":2.85},{"p":"C2","s":"B","x":84.9,"y":2.34},{"p":"C2","s":"B","x":85.6,"y":1.66},{"p":"C2","s":"B","x":86.9,"y":1.07},{"p":"C2","s":"B","x":88.2,"y":0.73},{"p":"C2","s":"B","x":89.3,"y":0.64},{"p":"C2","s":"B","x":90.5,"y":0.78},
{"p":"C2","s":"L","x":15.3,"y":1.12},{"p":"C2","s":"L","x":16.4,"y":1.15},{"p":"C2","s":"L","x":17.6,"y":1.32},{"p":"C2","s":"L","x":18.3,"y":1.66},{"p":"C2","s":"L","x":19.1,"y":2.0},{"p":"C2","s":"L","x":19.5,"y":2.54},{"p":"C2","s":"L","x":20.2,"y":3.01},{"p":"C2","s":"L","x":21.0,"y":3.27},{"p":"C2","s":"L","x":21.5,"y":4.03},{"p":"C2","s":"L","x":22.1,"y":6.32},{"p":"C2","s":"L","x":22.7,"y":8.57},{"p":"C2","s":"L","x":23.5,"y":9.48},{"p":"C2","s":"L","x":24.6,"y":9.45},{"p":"C2","s":"L","x":25.6,"y":8.94},{"p":"C2","s":"L","x":26.7,"y":8.35},{"p":"C2","s":"L","x":27.9,"y":8.43},{"p":"C2","s":"L","x":29.0,"y":9.03},{"p":"C2","s":"L","x":30.2,"y":9.53},{"p":"C2","s":"L","x":31.7,"y":9.87},{"p":"C2","s":"L","x":32.6,"y":10.0},{"p":"C2","s":"L","x":33.6,"y":10.13},{"p":"C2","s":"L","x":34.5,"y":10.3},{"p":"C2","s":"L","x":35.5,"y":10.47},{"p":"C2","s":"L","x":36.4,"y":10.63},{"p":"C2","s":"L","x":37.4,"y":10.8},{"p":"C2","s":"L","x":38.9,"y":11.31},{"p":"C2","s":"L","x":40.5,"y":11.82},{"p":"C2","s":"L","x":42.0,"y":12.33},{"p":"C2","s":"L","x":43.5,"y":12.75},{"p":"C2","s":"L","x":44.4,"y":12.98},{"p":"C2","s":"L","x":45.4,"y":13.18},{"p":"C2","s":"L","x":46.3,"y":13.28},{"p":"C2","s":"L","x":47.3,"y":13.34},{"p":"C2","s":"L","x":48.2,"y":13.36},{"p":"C2","s":"L","x":49.2,"y":13.34},{"p":"C2","s":"L","x":50.8,"y":13.18},{"p":"C2","s":"L","x":51.7,"y":13.2},{"p":"C2","s":"L","x":52.7,"y":13.26},{"p":"C2","s":"L","x":53.6,"y":13.35},{"p":"C2","s":"L","x":54.6,"y":13.43},{"p":"C2","s":"L","x":56.1,"y":13.26},{"p":"C2","s":"L","x":57.6,"y":12.75},{"p":"C2","s":"L","x":59.2,"y":12.16},{"p":"C2","s":"L","x":60.7,"y":11.57},{"p":"C2","s":"L","x":62.2,"y":11.06},{"p":"C2","s":"L","x":63.7,"y":10.8},{"p":"C2","s":"L","x":64.6,"y":10.67},{"p":"C2","s":"L","x":65.6,"y":10.55},{"p":"C2","s":"L","x":66.6,"y":10.42},{"p":"C2","s":"L","x":67.6,"y":10.3},{"p":"C2","s":"L","x":68.5,"y":10.13},{"p":"C2","s":"L","x":69.5,"y":9.96},{"p":"C2","s":"L","x":70.8,"y":9.7},{"p":"C2","s":"L","x":71.9,"y":9.11},{"p":"C2","s":"L","x":72.9,"y":8.52},{"p":"C2","s":"L","x":74.0,"y":8.09},{"p":"C2","s":"L","x":75.2,"y":8.26},{"p":"C2","s":"L","x":76.3,"y":8.94},{"p":"C2","s":"L","x":77.5,"y":9.28},{"p":"C2","s":"L","x":78.5,"y":9.2},{"p":"C2","s":"L","x":79.2,"y":8.35},{"p":"C2","s":"L","x":79.8,"y":6.23},{"p":"C2","s":"L","x":80.3,"y":4.03},{"p":"C2","s":"L","x":81.1,"y":3.27},{"p":"C2","s":"L","x":81.8,"y":3.01},{"p":"C2","s":"L","x":82.6,"y":2.59},{"p":"C2","s":"L","x":83.2,"y":2.0},{"p":"C2","s":"L","x":84.0,"y":1.49},{"p":"C2","s":"L","x":85.1,"y":1.32},{"p":"C2","s":"L","x":86.3,"y":1.24}
]},
"concat":[
{"width":549,"height":395,"title":{"text":"A","dx":-60},"transform":[{"filter":"datum.p == 'A1'"}],
"encoding":{"x":{"field":"x","type":"quantitative","scale":{"domain":[0,100],"nice":false,"zero":false},"axis":{"values":[23.8,53.9,84.0],"labelExpr":"datum.value > 40 && datum.value < 65 ? 'Central incisor' : 'First molar'","title":"0.025×0.017-inch","titleX":239,"titleY":65,"labelPadding":20}},
"y":{"field":"y","type":"quantitative","scale":{"domain":[0,20],"nice":false},"axis":{"values":[0,2,4,6,8,10,12,14,16,18,20],"labelExpr":"datum.value == 0 ? '0.000' : datum.value < 10 ? '.00' + datum.value : '.0' + datum.value","title":"Displacement (mm)","titleX":-58,"titleY":143}}},
"layer":[{"transform":[{"filter":"datum.s == 'B'"}],"mark":{"type":"line","strokeWidth":3.5,"color":"#FF5F00"},"encoding":{}},
{"transform":[{"filter":"datum.s == 'L'"}],"mark":{"type":"line","strokeWidth":3.5,"color":"#1E1EFF"},"encoding":{}},
{"mark":{"type":"point","filled":true,"size":130,"opacity":1},"encoding":{"color":{"field":"s","type":"nominal","scale":{"domain":["B","L"],"range":["#FF5F00","#1E1EFF"]},"legend":{"title":[" "," "," "," "],"legendX":20,"legendY":16,"labelExpr":"datum.label == 'B' ? 'Buccal line' : 'Lingual line'"}}}}]},
{"width":549,"height":395,"title":{"text":"B","dx":-61},"transform":[{"filter":"datum.p == 'B1'"}],
"encoding":{"x":{"field":"x","type":"quantitative","scale":{"domain":[0,100],"nice":false,"zero":false},"axis":{"values":[22.7,52.75,82.9],"labelExpr":"datum.value > 40 && datum.value < 65 ? 'Central incisor' : 'First molar'","title":"0.017×0.025-inch","titleX":245,"titleY":68,"labelPadding":20}},
"y":{"field":"y","type":"quantitative","scale":{"domain":[0,20],"nice":false},"axis":{"values":[0,2,4,6,8,10,12,14,16,18,20],"labelExpr":"datum.value == 0 ? '0.000' : datum.value < 10 ? '.00' + datum.value : '.0' + datum.value","title":"Displacement (mm)","titleX":-53,"titleY":150}}},
"layer":[{"transform":[{"filter":"datum.s == 'B'"}],"mark":{"type":"line","strokeWidth":3.5,"color":"#FF5F00"},"encoding":{}},
{"transform":[{"filter":"datum.s == 'L'"}],"mark":{"type":"line","strokeWidth":3.5,"color":"#1E1EFF"},"encoding":{}},
{"mark":{"type":"point","filled":true,"size":130,"opacity":1},"encoding":{"color":{"field":"s","type":"nominal","scale":{"domain":["B","L"],"range":["#FF5F00","#1E1EFF"]},"legend":{"title":[" "," "," "," "],"legendX":23,"legendY":19,"labelExpr":"datum.label == 'B' ? 'Buccal line' : 'Lingual line'"}}}}]},
{"width":550,"height":395,"title":{"text":"C","dx":-57},"transform":[{"filter":"datum.p == 'C1'"}],
"encoding":{"x":{"field":"x","type":"quantitative","scale":{"domain":[0,100],"nice":false,"zero":false},"axis":{"values":[23.1,53.2,83.2],"labelExpr":"datum.value > 40 && datum.value < 65 ? 'Central incisor' : 'First molar'","title":"Φ 0.018-inch","titleX":249,"titleY":68,"labelPadding":20}},
"y":{"field":"y","type":"quantitative","scale":{"domain":[0,20],"nice":false},"axis":{"values":[0,2,4,6,8,10,12,14,16,18,20],"labelExpr":"datum.value == 0 ? '0.000' : datum.value < 10 ? '.00' + datum.value : '.0' + datum.value","title":"Displacement (mm)","titleX":-56,"titleY":150}}},
"layer":[{"transform":[{"filter":"datum.s == 'B'"}],"mark":{"type":"line","strokeWidth":3.5,"color":"#FF5F00"},"encoding":{}},
{"transform":[{"filter":"datum.s == 'L'"}],"mark":{"type":"line","strokeWidth":3.5,"color":"#1E1EFF"},"encoding":{}},
{"mark":{"type":"point","filled":true,"size":130,"opacity":1},"encoding":{"color":{"field":"s","type":"nominal","scale":{"domain":["B","L"],"range":["#FF5F00","#1E1EFF"]},"legend":{"title":[" "," "," "," "],"legendX":23,"legendY":19,"labelExpr":"datum.label == 'B' ? 'Buccal line' : 'Lingual line'"}}}}]},
{"width":549,"height":395,"transform":[{"filter":"datum.p == 'A2'"}],
"encoding":{"x":{"field":"x","type":"quantitative","scale":{"domain":[0,100],"nice":false,"zero":false},"axis":{"values":[20.1,50.2,80.3],"labelExpr":"datum.value > 40 && datum.value < 65 ? 'Central incisor' : 'First molar'","title":"0.025×0.019-inch","titleX":253,"titleY":70,"labelPadding":27}},
"y":{"field":"y","type":"quantitative","scale":{"domain":[0,20],"nice":false},"axis":{"values":[0,2,4,6,8,10,12,14,16,18,20],"labelExpr":"datum.value == 0 ? '0.000' : datum.value < 10 ? '.00' + datum.value : '.0' + datum.value","title":"Displacement (mm)","titleX":-58,"titleY":142}}},
"layer":[{"transform":[{"filter":"datum.s == 'B'"}],"mark":{"type":"line","strokeWidth":3.5,"color":"#FF5F00"},"encoding":{}},
{"transform":[{"filter":"datum.s == 'L'"}],"mark":{"type":"line","strokeWidth":3.5,"color":"#1E1EFF"},"encoding":{}},
{"mark":{"type":"point","filled":true,"size":130,"opacity":1},"encoding":{"color":{"field":"s","type":"nominal","scale":{"domain":["B","L"],"range":["#FF5F00","#1E1EFF"]},"legend":{"title":[" "," "," "," "],"legendX":27,"legendY":11,"labelExpr":"datum.label == 'B' ? 'Buccal line' : 'Lingual line'"}}}}]},
{"width":549,"height":395,"transform":[{"filter":"datum.p == 'B2'"}],
"encoding":{"x":{"field":"x","type":"quantitative","scale":{"domain":[0,100],"nice":false,"zero":false},"axis":{"values":[21.9,52.0,82.1],"labelExpr":"datum.value > 40 && datum.value < 65 ? 'Central incisor' : 'First molar'","title":"0.019×0.025-inch","titleX":256,"titleY":70,"labelPadding":27}},
"y":{"field":"y","type":"quantitative","scale":{"domain":[0,20],"nice":false},"axis":{"values":[0,2,4,6,8,10,12,14,16,18,20],"labelExpr":"datum.value == 0 ? '0.000' : datum.value < 10 ? '.00' + datum.value : '.0' + datum.value","title":"Displacement (mm)","titleX":-61,"titleY":146}}},
"layer":[{"transform":[{"filter":"datum.s == 'B'"}],"mark":{"type":"line","strokeWidth":3.5,"color":"#FF5F00"},"encoding":{}},
{"transform":[{"filter":"datum.s == 'L'"}],"mark":{"type":"line","strokeWidth":3.5,"color":"#1E1EFF"},"encoding":{}},
{"mark":{"type":"point","filled":true,"size":130,"opacity":1},"encoding":{"color":{"field":"s","type":"nominal","scale":{"domain":["B","L"],"range":["#FF5F00","#1E1EFF"]},"legend":{"title":[" "," "," "," "],"legendX":20,"legendY":16,"labelExpr":"datum.label == 'B' ? 'Buccal line' : 'Lingual line'"}}}}]},
{"width":550,"height":395,"transform":[{"filter":"datum.p == 'C2'"}],
"encoding":{"x":{"field":"x","type":"quantitative","scale":{"domain":[0,100],"nice":false,"zero":false},"axis":{"values":[21.7,51.8,81.9],"labelExpr":"datum.value > 40 && datum.value < 65 ? 'Central incisor' : 'First molar'","title":"Φ 0.020-inch","titleX":269,"titleY":70,"labelPadding":27}},
"y":{"field":"y","type":"quantitative","scale":{"domain":[0,20],"nice":false},"axis":{"values":[0,2,4,6,8,10,12,14,16,18,20],"labelExpr":"datum.value == 0 ? '0.000' : datum.value < 10 ? '.00' + datum.value : '.0' + datum.value","title":"Displacement (mm)","titleX":-56,"titleY":146}}},
"layer":[{"transform":[{"filter":"datum.s == 'B'"}],"mark":{"type":"line","strokeWidth":3.5,"color":"#FF5F00"},"encoding":{}},
{"transform":[{"filter":"datum.s == 'L'"}],"mark":{"type":"line","strokeWidth":3.5,"color":"#1E1EFF"},"encoding":{}},
{"mark":{"type":"point","filled":true,"size":130,"opacity":1},"encoding":{"color":{"field":"s","type":"nominal","scale":{"domain":["B","L"],"range":["#FF5F00","#1E1EFF"]},"legend":{"title":[" "," "," "," "],"legendX":30,"legendY":16,"labelExpr":"datum.label == 'B' ? 'Buccal line' : 'Lingual line'"}}}}]}
]
}
